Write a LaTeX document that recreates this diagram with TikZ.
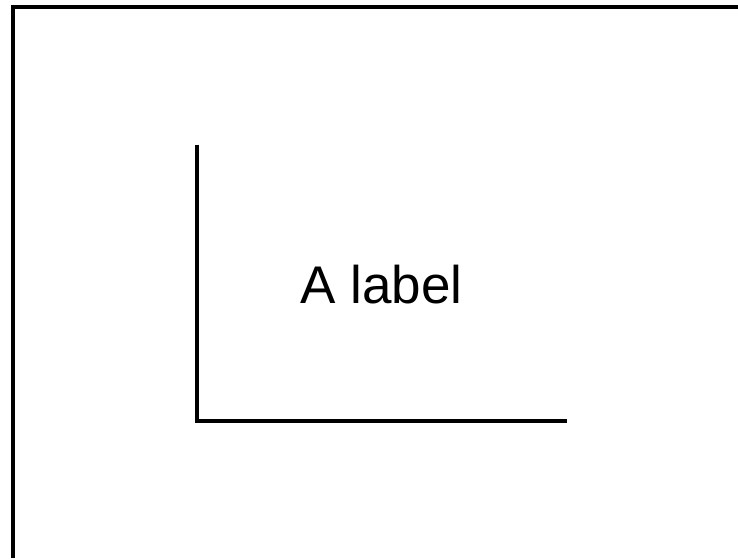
\documentclass[tikz,border=0pt]{standalone}
\usepackage{fontspec}
\setmainfont{Liberation Sans}
\usetikzlibrary{positioning}
\tikzset{axisline/.style={line width=4pt},framebox/.style={line width=4pt}}

\begin{document}
\begin{tikzpicture}[x=1pt,y=-1pt]
\useasboundingbox (0,0) rectangle (738,558);
\draw[framebox] (13,558) |- (738,7);
\coordinate (origin) at (196.5,420.5); \coordinate (ytop) at (196.5,144.5); \coordinate (xend) at (567,420.5);
\draw[axisline] (ytop)--(origin)--(xend);
\node[anchor=base,inner sep=0pt,font=\fontsize{53}{58}\selectfont] (lbl) at (381.5,303) {A label};
\end{tikzpicture}
\end{document}
